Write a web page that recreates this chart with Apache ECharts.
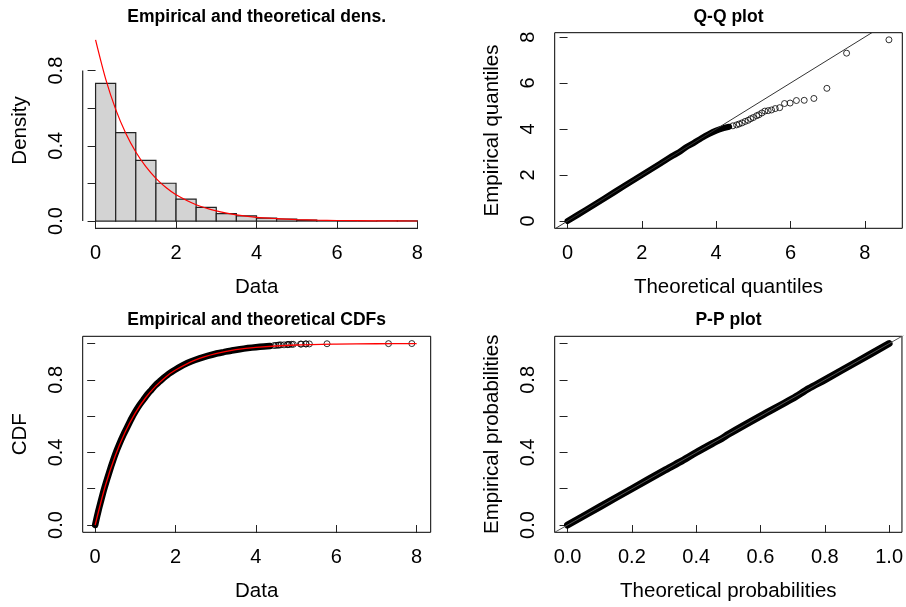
<!DOCTYPE html>
<html>
<head>
<meta charset="utf-8">
<script src="https://cdn.jsdelivr.net/npm/echarts@6/dist/echarts.min.js"></script>
<style>
html,body{margin:0;padding:0;background:#fff;}
#c{width:906px;height:607px;}
</style>
</head>
<body>
<div id="c"></div>
<script>
// ---------- Data ----------
// Panel 1: histogram (density) and fitted density curve
const histBreaks = [0,0.5,1,1.5,2,2.5,3,3.5,4,4.5,5,5.5,6,6.5,7,7.5,8];
const histDensity = [0.732,0.470,0.323,0.201,0.117,0.073,0.039,0.028,0.016,0.011,0.005,0.001,0,0,0.001,0.001];
const densX = [0,0.25,0.5,0.75,1,1.25,1.5,1.75,2,2.5,3,3.5,4,4.5,5,5.5,6,7,8];
const densY = [0.963,0.756,0.594,0.467,0.367,0.289,0.227,0.178,0.140,0.087,0.054,0.033,0.020,0.013,0.008,0.005,0.003,0.001,0.0004];

// Panel 2: Q-Q plot (theoretical, empirical)
const qqDense = [[0.0,0.0],[0.5,0.49],[1.0,0.99],[1.5,1.5],[2.0,2.0],[2.5,2.5],[2.8,2.81],[3.0,2.99],[3.2,3.22],[3.4,3.4],[3.6,3.6],[3.8,3.78],[4.0,3.93],[4.2,4.04],[4.35,4.1]];
const qqTail = [[4.45,4.14],[4.55,4.18],[4.62,4.22],[4.70,4.27],[4.78,4.33],[4.86,4.38],[4.93,4.45],[5.00,4.50],[5.09,4.58],[5.15,4.62],[5.23,4.70],[5.31,4.78],[5.40,4.80],[5.49,4.83],[5.59,4.89],[5.71,4.93],[5.84,5.11],[5.99,5.13],[6.16,5.24],[6.37,5.25],[6.63,5.33],[6.98,5.77],[7.51,7.30],[8.65,7.88]];
const qqRef = [[-1,-1],[10,10]];

// Panel 3: empirical CDF points and fitted CDF
const cdfDense = [[0.0,0.0],[0.05,0.05],[0.1,0.095],[0.2,0.18],[0.3,0.255],[0.4,0.325],[0.5,0.39],[0.6,0.445],[0.7,0.495],[0.8,0.54],[0.9,0.585],[1.0,0.625],[1.1,0.66],[1.2,0.69],[1.3,0.72],[1.4,0.745],[1.5,0.77],[1.6,0.79],[1.7,0.81],[1.8,0.828],[1.9,0.843],[2.0,0.857],[2.2,0.882],[2.4,0.902],[2.6,0.918],[2.8,0.932],[3.0,0.944],[3.2,0.953],[3.4,0.962],[3.6,0.969],[3.8,0.975],[4.0,0.98],[4.2,0.984],[4.35,0.987]];
const cdfTail = [[4.45,0.989],[4.50,0.990],[4.55,0.991],[4.58,0.992],[4.62,0.993],[4.70,0.993],[4.78,0.994],[4.80,0.995],[4.83,0.995],[4.89,0.996],[4.93,0.996],[5.11,0.997],[5.13,0.997],[5.24,0.998],[5.25,0.998],[5.33,0.998],[5.77,0.999],[7.30,0.9995],[7.88,1.0]];
const cdfFitX = [0,0.25,0.5,0.75,1,1.25,1.5,1.75,2,2.5,3,3.5,4,5,6,7,8];
const cdfFitY = [0,0.214,0.382,0.514,0.618,0.700,0.764,0.815,0.854,0.910,0.944,0.966,0.979,0.992,0.997,0.999,1.0];

// Panel 4: P-P plot
const ppDense = [[0,0],[0.1,0.1],[0.2,0.2],[0.3,0.3],[0.35,0.348],[0.4,0.4],[0.45,0.449],[0.48,0.477],[0.5,0.5],[0.6,0.6],[0.7,0.697],[0.75,0.752],[0.8,0.8],[0.9,0.9],[1,1]];
const ppRef = [[-0.1,-0.1],[1.1,1.1]];

// Tick values
const ticks08 = [0,2,4,6,8];
const densTicks = [0,0.2,0.4,0.6,0.8];
const densLabels = [0,0.4,0.8];
const probTicks = [0,0.2,0.4,0.6,0.8,1.0];
const probLabels = [0,0.4,0.8];

// Titles
const titles = ['Empirical and theoretical dens.','Q-Q plot','Empirical and theoretical CDFs','P-P plot'];
const xNames = ['Data','Theoretical quantiles','Data','Theoretical probabilities'];
const yNames = ['Density','Empirical quantiles','CDF','Empirical probabilities'];

// ---------- Chart ----------
const FONT = '"Liberation Sans", Arial, Helvetica, sans-serif';
const AX = '#222';
const grids = [
  {left:82.7, top:32.7, width:348, height:195.6, show:false},
  {left:554.7, top:32.7, width:347.6, height:195.6, show:true},
  {left:82.7, top:336.3, width:348, height:196, show:true},
  {left:554.7, top:336.3, width:347.6, height:196, show:true}
].map(g => Object.assign({containLabel:false, borderColor:'#000', borderWidth:1, backgroundColor:'transparent'}, g));

const ranges = [
  {x:[-0.32,8.33], y:[-0.0385,1.0015], xt:ticks08, xl:ticks08, yt:densTicks, yl:densLabels, xf:v=>String(v), yf:v=>v.toFixed(1)},
  {x:[-0.346,9.01], y:[-0.317,8.19], xt:ticks08, xl:ticks08, yt:ticks08, yl:ticks08, xf:v=>String(v), yf:v=>String(v)},
  {x:[-0.31,8.35], y:[-0.04,1.04], xt:ticks08, xl:ticks08, yt:probTicks, yl:probLabels, xf:v=>String(v), yf:v=>v.toFixed(1)},
  {x:[-0.04,1.04], y:[-0.04,1.04], xt:probTicks, xl:probTicks, yt:probTicks, yl:probLabels, xf:v=>v.toFixed(1), yf:v=>v.toFixed(1)}
];

const xAxes = ranges.map((r,i)=>({
  type:'value', gridIndex:i, min:r.x[0], max:r.x[1],
  name:xNames[i], nameLocation:'middle', nameGap:49,
  nameTextStyle:{fontFamily:FONT, fontSize:20.5, color:'#000'},
  axisLine:{show:false},
  axisTick:{show:true, inside:false, length:8, customValues:r.xt, lineStyle:{color:AX, width:1}},
  axisLabel:{show:true, margin:15, customValues:r.xl, formatter:r.xf, fontFamily:FONT, fontSize:20, color:'#000'},
  splitLine:{show:false}
}));
const yAxes = ranges.map((r,i)=>({
  type:'value', gridIndex:i, min:r.y[0], max:r.y[1],
  name:yNames[i], nameLocation:'middle', nameGap:52, nameRotate:90,
  nameTextStyle:{fontFamily:FONT, fontSize:20.5, color:'#000'},
  axisLine:{show:false},
  axisTick:{show:true, inside:false, length:8, customValues:r.yt, lineStyle:{color:AX, width:1}},
  axisLabel:{show:true, margin:16, rotate:90, customValues:r.yl, formatter:r.yf, fontFamily:FONT, fontSize:20, color:'#000'},
  splitLine:{show:false}
}));

const titleCfg = [
  {text:titles[0], left:256.7, top:8},
  {text:titles[1], left:728.5, top:8.5},
  {text:titles[2], left:256.7, top:311},
  {text:titles[3], left:728.5, top:311}
].map(t=>Object.assign({textAlign:'center', padding:0, textStyle:{fontFamily:FONT, fontSize:17.5, fontWeight:'bold', color:'#000'}}, t));

const circleStyle = {color:'rgba(0,0,0,0)', borderColor:'#000', borderWidth:1};

const series = [
  // Panel 1 histogram
  {
    type:'custom', xAxisIndex:0, yAxisIndex:0, silent:true, z:2,
    data: histDensity.map((d,i)=>[histBreaks[i], histBreaks[i+1], d]),
    encode:{x:[0,1], y:2},
    renderItem:function(params, api){
      const p0 = api.coord([api.value(0), api.value(2)]);
      const p1 = api.coord([api.value(1), 0]);
      return {type:'rect', shape:{x:p0[0], y:p0[1], width:p1[0]-p0[0], height:p1[1]-p0[1]},
              style:{fill:'#d3d3d3', stroke:'#222', lineWidth:1.2}};
    }
  },
  {
    type:'line', xAxisIndex:0, yAxisIndex:0, silent:true, z:3, symbol:'none', smooth:0.3,
    data: densX.map((x,i)=>[x, densY[i]]),
    lineStyle:{color:'#ff0000', width:1.2}
  },
  // Panel 1 R-style axis lines
  {
    type:'line', xAxisIndex:0, yAxisIndex:0, silent:true, symbol:'none', clip:false, z:4,
    data:[[ticks08[0], ranges[0].y[0]],[ticks08[ticks08.length-1], ranges[0].y[0]]],
    lineStyle:{color:AX, width:1.2}
  },
  {
    type:'line', xAxisIndex:0, yAxisIndex:0, silent:true, symbol:'none', clip:false, z:4,
    data:[[ranges[0].x[0], densTicks[0]],[ranges[0].x[0], densTicks[densTicks.length-1]]],
    lineStyle:{color:AX, width:1.2}
  },
  // Panel 2 Q-Q
  {
    type:'line', xAxisIndex:1, yAxisIndex:1, silent:true, symbol:'none', z:2, smooth:0.3,
    data:qqDense, lineStyle:{color:'#000', width:6, cap:'round', join:'round'}
  },
  {
    type:'scatter', xAxisIndex:1, yAxisIndex:1, silent:true, symbol:'circle', symbolSize:6, z:3,
    data:qqTail, itemStyle:circleStyle
  },
  {
    type:'line', xAxisIndex:1, yAxisIndex:1, silent:true, symbol:'none', z:4,
    data:qqRef, lineStyle:{color:'#333', width:1}
  },
  // Panel 3 CDF
  {
    type:'line', xAxisIndex:2, yAxisIndex:2, silent:true, symbol:'none', z:2, smooth:0.2,
    data:cdfDense, lineStyle:{color:'#000', width:6.5, cap:'round', join:'round'}
  },
  {
    type:'scatter', xAxisIndex:2, yAxisIndex:2, silent:true, symbol:'circle', symbolSize:6, z:3,
    data:cdfTail, itemStyle:circleStyle
  },
  {
    type:'line', xAxisIndex:2, yAxisIndex:2, silent:true, symbol:'none', z:4, smooth:0.3,
    data:cdfFitX.map((x,i)=>[x, cdfFitY[i]]), lineStyle:{color:'#ff0000', width:1.3}
  },
  // Panel 4 P-P
  {
    type:'line', xAxisIndex:3, yAxisIndex:3, silent:true, symbol:'none', z:2, smooth:0.3,
    data:ppDense, lineStyle:{color:'#000', width:7, cap:'round', join:'round'}
  },
  {
    type:'line', xAxisIndex:3, yAxisIndex:3, silent:true, symbol:'none', z:4,
    data:ppRef, lineStyle:{color:'#555', width:1}
  }
];

const chart = echarts.init(document.getElementById('c'), null, {renderer:'canvas'});
chart.setOption({
  backgroundColor:'#fff',
  animation:false,
  title:titleCfg,
  grid:grids,
  xAxis:xAxes,
  yAxis:yAxes,
  series:series
});
</script>
</body>
</html>
